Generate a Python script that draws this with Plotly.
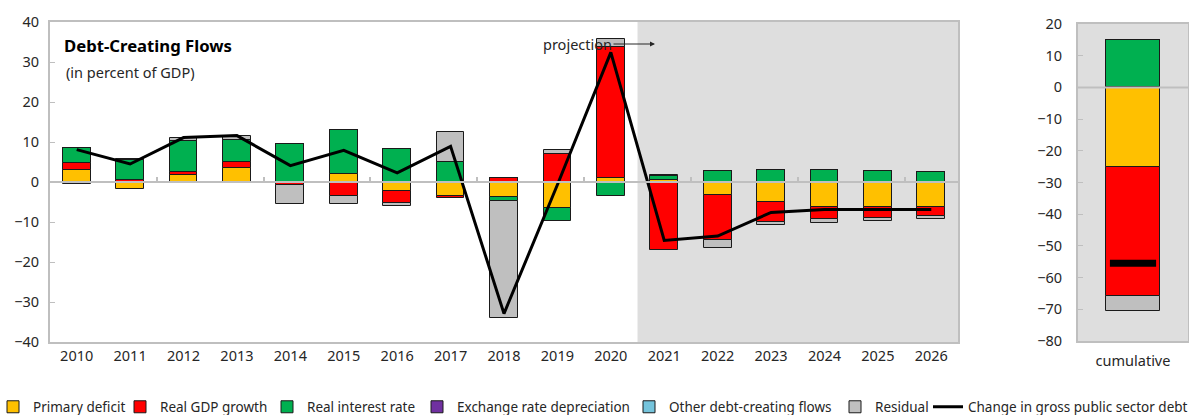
import plotly.graph_objects as go

W, H = 1189, 415

years = [str(y) for y in range(2010, 2027)]

primary_deficit = [2.9, -1.7, 1.7, 3.6, 0.0, 2.0, -2.3, -3.5, -3.7, -6.4, 0.9, 0.6, -3.2, -5.1, -6.2, -6.2, -6.2]
real_gdp_growth = [1.8, 0.6, 0.9, 1.3, -0.8, -3.5, -2.9, -0.4, 1.1, 7.0, 32.9, -16.9, -11.2, -4.8, -3.1, -2.8, -2.3]
real_interest = [3.8, 4.8, 7.6, 5.7, 9.4, 11.1, 8.2, 5.0, -1.0, -3.3, -3.5, 0.9, 2.8, 3.1, 3.1, 2.7, 2.4]
exchange_rate = [0.0] * 17
other_flows = [0.0] * 17
residual = [-0.5, 0.4, 0.8, 0.9, -4.7, -1.9, -0.7, 7.5, -29.3, 0.9, 2.0, 0.2, -2.2, -0.8, -0.9, -0.7, -0.7]
debt_change = [8.1, 4.5, 11.1, 11.6, 4.1, 7.9, 2.3, 8.9, -32.9, -0.7, 32.4, -14.6, -13.5, -7.6, -6.9, -6.9, -6.9]

cum_label = ["cumulative"]
cum_primary = [-25.0]
cum_growth = [-40.8]
cum_interest = [15.0]
cum_exchange = [0.0]
cum_other = [0.0]
cum_residual = [-4.7]
cum_debt_change = [-55.5]

first_projection = 11  # index of 2021

series = [
    ("Primary deficit", "#ffc000", primary_deficit, cum_primary),
    ("Real GDP growth", "#ff0000", real_gdp_growth, cum_growth),
    ("Real interest rate", "#00b050", real_interest, cum_interest),
    ("Exchange rate depreciation", "#7030a0", exchange_rate, cum_exchange),
    ("Other debt-creating flows", "#75c4dc", other_flows, cum_other),
    ("Residual", "#bfbfbf", residual, cum_residual),
]

# left edge (px) of each legend entry's text, one legend box per entry so the row never wraps
legend_text_px = [33, 160, 307, 457, 669, 875, 968]

GRID = "#bfbfbf"
TXT = "#262626"
FONT = "Noto Sans"

fig = go.Figure()

legend_ids = ["legend"] + ["legend%d" % i for i in range(2, 8)]

for i, (name, color, vals, cvals) in enumerate(series):
    fig.add_trace(go.Bar(
        x=years, y=vals, name=name, marker_color=color,
        marker_line=dict(color="#1a1a1a", width=1),
        width=0.52, legendgroup=name, legend=legend_ids[i], xaxis="x", yaxis="y"))
    fig.add_trace(go.Bar(
        x=cum_label, y=cvals, name=name, marker_color=color,
        marker_line=dict(color="#1a1a1a", width=1),
        width=0.49, legendgroup=name, showlegend=False, xaxis="x2", yaxis="y2"))

fig.add_trace(go.Scatter(
    x=years, y=debt_change, mode="lines", name="Change in gross public sector debt",
    line=dict(color="black", width=3), legend=legend_ids[6], xaxis="x", yaxis="y"))
fig.add_trace(go.Scatter(
    x=cum_label, y=cum_debt_change, mode="markers", showlegend=False,
    marker=dict(symbol="line-ew", size=33, line=dict(color="black", width=7)),
    xaxis="x2", yaxis="y2"))

# dummy trace so the tick-only axis on the zero line is drawn
fig.add_trace(go.Scatter(x=[None], y=[None], showlegend=False, xaxis="x3", yaxis="y",
                         hoverinfo="skip"))

left_dom = [50 / W, 958 / W]
left_ydom = [1 - 342 / H, 1 - 22 / H]
right_dom = [1078 / W, 1188 / W]
right_ydom = [1 - 341 / H, 1 - 24 / H]

axis_common = dict(showline=True, linecolor=GRID, linewidth=2, mirror=True,
                   showgrid=False, zeroline=False, automargin=False,
                   tickfont=dict(family=FONT, size=14.5, color=TXT))

layout_legends = {}
for lid, tx in zip(legend_ids, legend_text_px):
    layout_legends[lid] = dict(x=(tx - 40) / W, xanchor="left", y=1 - 407 / H, yanchor="middle",
                               font=dict(family=FONT, size=13.5, color=TXT), itemwidth=30,
                               bgcolor="rgba(0,0,0,0)")

fig.update_layout(
    width=W, height=H,
    margin=dict(l=0, r=0, t=0, b=0, autoexpand=False),
    paper_bgcolor="white", plot_bgcolor="white",
    barmode="relative", bargap=0,
    font=dict(family=FONT, size=14, color=TXT),
    xaxis=dict(domain=left_dom, anchor="y", type="category", range=[-0.5, 16.5],
               ticks="", **axis_common),
    yaxis=dict(domain=left_ydom, anchor="x", range=[-40, 40], tickvals=list(range(-40, 41, 10)),
               ticks="inside", ticklen=5, tickcolor=GRID, tickwidth=1, ticklabelstandoff=6,
               **axis_common),
    xaxis2=dict(domain=right_dom, anchor="y2", type="category", range=[-0.5, 0.5],
                ticks="", ticklabelstandoff=6, **axis_common),
    yaxis2=dict(domain=right_ydom, anchor="x2", range=[-80, 20], tickvals=list(range(-80, 21, 10)),
                ticks="inside", ticklen=5, tickcolor=GRID, tickwidth=1, ticklabelstandoff=11,
                **axis_common),
    xaxis3=dict(overlaying="x", anchor="free", domain=left_dom,
                position=left_ydom[0] + 0.5 * (left_ydom[1] - left_ydom[0]),
                range=[-0.5, 16.5], tickvals=[i + 0.5 for i in range(1, 16, 2)],
                ticks="inside", ticklen=5, tickcolor=GRID, tickwidth=2,
                showticklabels=False, showline=False, showgrid=False, zeroline=False),
    showlegend=True,
    **layout_legends,
)

# projection shading and right panel background
fig.add_shape(type="rect", xref="x", yref="y domain", x0=first_projection - 0.5, x1=16.5,
              y0=0, y1=1, fillcolor="#dedede", line_width=0, layer="below")
fig.add_shape(type="rect", xref="x2 domain", yref="y2 domain", x0=0, x1=1, y0=0, y1=1,
              fillcolor="#dedede", line_width=0, layer="below")
# zero lines drawn over the bars
fig.add_shape(type="line", xref="x domain", yref="y", x0=0, x1=1, y0=0, y1=0,
              line=dict(color=GRID, width=2), layer="above")
fig.add_shape(type="line", xref="x2 domain", yref="y2", x0=0, x1=1, y0=0, y1=0,
              line=dict(color=GRID, width=2), layer="above")

fig.add_annotation(text="<b>Debt-Creating Flows</b>", xref="paper", yref="paper",
                   x=62 / W, y=1 - 46 / H, xanchor="left", yanchor="middle", showarrow=False,
                   font=dict(family=FONT, size=16.7, color="black"))
fig.add_annotation(text="(in percent of GDP)", xref="paper", yref="paper",
                   x=64 / W, y=1 - 72 / H, xanchor="left", yanchor="middle", showarrow=False,
                   font=dict(family=FONT, size=14.5, color=TXT))
fig.add_annotation(text="projection", xref="paper", yref="paper",
                   x=577 / W, y=1 - 44 / H, xanchor="center", yanchor="middle", showarrow=False,
                   font=dict(family=FONT, size=14.5, color=TXT))
fig.add_annotation(text="", xref="paper", yref="paper", axref="pixel", ayref="pixel",
                   x=655 / W, y=1 - 44 / H, ax=-43, ay=0,
                   showarrow=True, arrowhead=2, arrowsize=1, arrowwidth=1, arrowcolor=TXT)

# drop the browser's default page margin so the figure sits at the window's corner
fig.write_html("out.html", config={"displayModeBar": False},
               post_script="document.body.style.margin = '0';")
